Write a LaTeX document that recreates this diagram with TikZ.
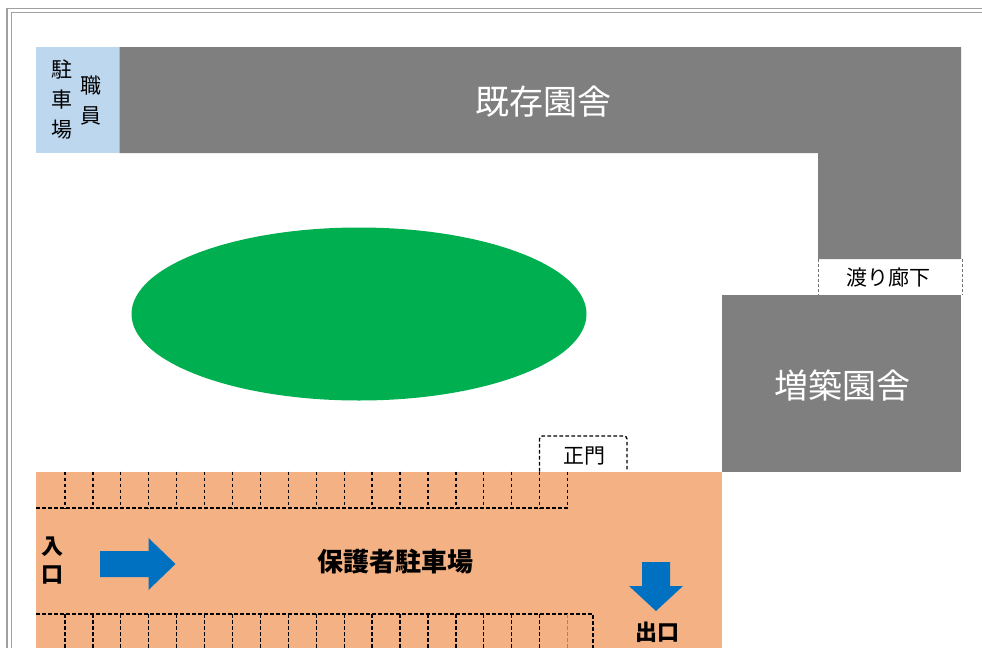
\documentclass[tikz,border=0pt]{standalone}
\usepackage{fontspec}
\setmainfont{Noto Sans CJK JP}
\newfontfamily\jpb[BoldFont={Noto Sans CJK JP Bold}]{Noto Sans CJK JP}
\definecolor{bldg}{HTML}{7F7F7F}
\definecolor{staff}{HTML}{BDD7EE}
\definecolor{park}{HTML}{F4B183}
\definecolor{lawn}{HTML}{00B050}
\definecolor{flow}{HTML}{0070C0}
\definecolor{framec}{HTML}{A0A0A0}
\tikzset{
  lbl/.style={inner sep=0pt,text=black,align=center},
  bigw/.style={lbl,text=white,font=\fontsize{34}{34}\selectfont},
  small/.style={lbl,font=\fontsize{21}{21}\selectfont},
  vert/.style={lbl,font=\fontsize{21}{30}\selectfont},
  parkb/.style={lbl,font=\fontsize{26}{28}\selectfont\bfseries},
  bay/.style={draw=black,line width=1.3pt,dash pattern=on 3.6pt off 2.4pt},
  walk/.style={draw=black!55,line width=1pt,dash pattern=on 3pt off 2pt},
  arrowfill/.style={fill=flow,draw=none}
}
\begin{document}
\begin{tikzpicture}[x=1pt,y=-1pt]
\useasboundingbox (0,0) rectangle (982,648);
\fill[white] (0,0) rectangle (982,648);
% window frame
\draw[framec,line width=1.4pt] (982,8.5) -- (7,8.5) -- (7,648);
\draw[framec,line width=1.4pt] (982,12.5) -- (11.5,12.5) -- (11.5,648);
% buildings
\fill[staff] (36,47) rectangle (119.5,153);
\fill[bldg] (119.5,47) -- (961,47) -- (961,259) -- (818,259) -- (818,153) -- (119.5,153) -- cycle;
\fill[bldg] (722,295) rectangle (961,471.5);
\fill[park] (36,471.5) rectangle (722,648);
\fill[lawn] (359,314) ellipse [x radius=227.5, y radius=86.5];
% walkway
\coordinate (wa) at (818.5,259);
\coordinate (wb) at (818.5,295);
\coordinate (wc) at (962,259);
\coordinate (wd) at (962,295);
\draw[walk] (wa) -- (wb);
\draw[walk] (wc) -- (wd);
% gate
\draw[bay] (539.5,471.5) -- (539.5,439) arc[start angle=180,end angle=270,radius=3] -- (624,436) arc[start angle=270,end angle=360,radius=3] -- (627,471.5);
% parking bays, upper
\draw[bay] (36,508) -- (567.5,508);
\foreach \i in {0,...,18} {\draw[bay] ({65+27.92*\i},471.5) -- ({65+27.92*\i},508);}
% parking bays, lower
\draw[bay] (36,614) -- (593,614) -- (593,648);
\foreach \i in {0,...,17} {\draw[bay] ({65+27.92*\i},614) -- ({65+27.92*\i},648);}
\draw[bay,draw=black!45] (567.5,614) -- (567.5,648);
% arrows
\fill[arrowfill] (100,551) -- (148.5,551) -- (148.5,538) -- (175.5,564) -- (148.5,590) -- (148.5,577) -- (100,577) -- cycle;
\fill[arrowfill] (642,562) -- (670,562) -- (670,586) -- (683,586) -- (656,611) -- (629,586) -- (642,586) -- cycle;
% labels
\node[bigw] (kizon) at (543,102) {既存園舎};
\node[bigw] (zochi) at (842,386) {増築園舎};
\node[small] (wata) at (888.5,278) {渡り廊下};
\node[small] (seimon) at (584,456) {正門};
\node[vert] (chu) at (62,100) {駐\\車\\場};
\node[vert] (shoku) at (91,101) {職\\員};
\node[parkb] (hogo) at (395,562) {保護者駐車場};
\node[lbl,font=\fontsize{22}{28}\selectfont\bfseries] (iri) at (52,561) {入\\口};
\node[lbl,font=\fontsize{22}{22}\selectfont\bfseries] (de) at (657,632) {出口};
\end{tikzpicture}
\end{document}
